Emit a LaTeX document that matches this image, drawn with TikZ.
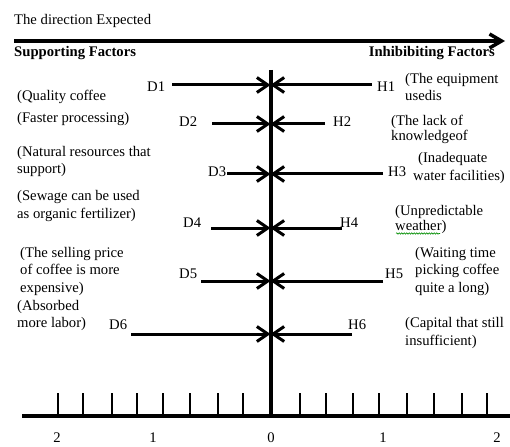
\documentclass[tikz,border=0pt]{standalone}
\usepackage{fontspec}
\setmainfont{Liberation Serif}
\usetikzlibrary{arrows.meta,decorations.pathmorphing}
\begin{document}
\begin{tikzpicture}[x=1pt,y=-1pt,
  txt/.style={font=\fontsize{14.67}{17}\selectfont, inner sep=0pt, align=left, anchor=north west},
  lbl/.style={font=\fontsize{14.67}{17}\selectfont, inner sep=0pt, anchor=base west},
  hdr/.style={font=\fontsize{14.67}{17}\selectfont\bfseries, inner sep=0pt},
  num/.style={font=\fontsize{14.67}{17}\selectfont, inner sep=0pt, anchor=base},
  arr/.style={line width=3pt, -{Straight Barb[length=11pt,width=15pt]}},
  axisline/.style={line width=4pt},
  tickline/.style={line width=1.5pt}]
\useasboundingbox (0,0) rectangle (510,446);

% header
\node[lbl] (dir) at (14,25) {The direction Expected};
\coordinate (ts) at (14,41);
\coordinate (te) at (505,41);
\draw[line width=3.5pt, -{Straight Barb[length=12pt,width=14pt]}] (ts) -- (te);
\node[hdr, anchor=base west] (sup) at (14,57) {Supporting Factors};
\node[hdr, anchor=base east] (inh) at (495,57) {Inhibibiting Factors};

% axes
\coordinate (vtop) at (270.5,70);
\coordinate (vbot) at (270.5,416);
\draw[axisline] (vtop) -- (vbot);
\coordinate (hl) at (22,416);
\coordinate (hr) at (510,416);
\draw[axisline] (hl) -- (hr);
\foreach \x [count=\i] in {58,83,112,137,163,190,218,243,300,326,353,379,407,434,462,487}{
  \coordinate (tb\i) at (\x,416);
  \coordinate (tt\i) at (\x,393);
  \draw[tickline] (tb\i) -- (tt\i);
}
\node[num] (n1) at (57,442) {2};
\node[num] (n2) at (153,442) {1};
\node[num] (n3) at (271,442) {0};
\node[num] (n4) at (383,442) {1};
\node[num] (n5) at (497,442) {2};

% arrows: row, y, D start, H end
\foreach \r/\y/\ds/\he in {1/85/172/372, 2/124/212/325, 3/174/227/383, 4/228/211/342, 5/281/201/383, 6/334/131/352}{
  \coordinate (m\r) at (270.5,\y);
  \coordinate (ds\r) at (\ds,\y);
  \coordinate (he\r) at (\he,\y);
  \draw[arr] (ds\r) -- (m\r);
  \draw[arr] (he\r) -- (m\r);
}

% D / H labels
\node[lbl] (D1) at (147,92) {D1};
\node[lbl] (D2) at (179,127) {D2};
\node[lbl] (D3) at (208,177) {D3};
\node[lbl] (D4) at (183,227) {D4};
\node[lbl] (D5) at (179,278) {D5};
\node[lbl] (D6) at (109,329) {D6};
\node[lbl] (H1) at (377,92) {H1};
\node[lbl] (H2) at (333,127) {H2};
\node[lbl] (H3) at (388,177) {H3};
\node[lbl] (H4) at (340,227) {H4};
\node[lbl] (H5) at (385,278) {H5};
\node[lbl] (H6) at (348,329) {H6};

% left texts
\node[txt] (t1) at (17,90) {(Quality coffee};
\node[txt] (t2) at (17,112) {(Faster processing)};
\node[txt] (t3) at (17,146) {(Natural resources  that\\support)};
\node[txt] (t4) at (17,190) {(Sewage can be used\\[1pt]as organic fertilizer)};
\node[txt] (t5) at (20,247) {(The selling price\\[0.5pt]of coffee is more\\[0.5pt]expensive)};
\node[txt] (t6) at (17,300) {(Absorbed\\more labor)};

% right texts
\node[txt] (r1) at (405,73) {(The equipment\\usedis};
\node[txt] (r2) at (391,115) {(The lack of\\[-2pt]knowledgeof};
\node[txt] (r3) at (413,152) {\hspace*{5pt}(Inadequate\\[1pt]water facilities)};
\node[txt] (r4) at (395,205) {(Unpredictable\\[-2pt]weather)};
\node[txt] (r5) at (415,247) {(Waiting time\\[0.5pt]picking coffee\\[0.5pt]quite a long)};
\node[txt] (r6) at (405,317) {(Capital that still\\[1pt]insufficient)};

% spell-check squiggle
\coordinate (sq1) at (396,233.5);
\coordinate (sq2) at (440,233.5);
\draw[green!55!black, line width=0.6pt, decorate, decoration={snake, amplitude=0.7pt, segment length=2.5pt}] (sq1) -- (sq2);
\end{tikzpicture}
\end{document}
